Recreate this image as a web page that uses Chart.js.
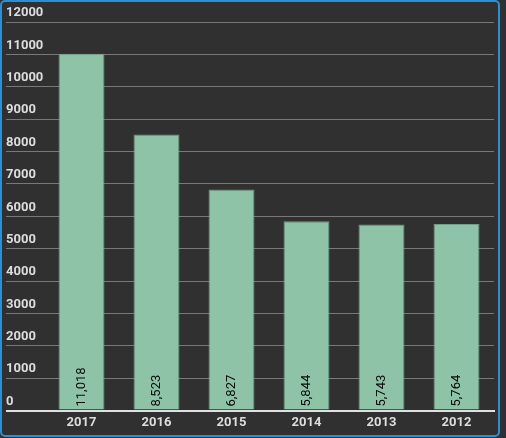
<!DOCTYPE html>
<html>
<head>
<meta charset="utf-8">
<script src="https://cdn.jsdelivr.net/npm/chart.js@4"></script>
<style>
    html, body { margin: 0; padding: 0; background: #303030; }
    #box {
        position: absolute; left: 0; top: 0;
        width: 500px; height: 437px;
        box-sizing: border-box;
        border: 2px solid #2b8fd6;
        border-radius: 5px;
        background: #303030;
    }
    #chart { display: block; }
</style>
</head>
<body>
<div id="box"><canvas id="chart" width="496" height="433"></canvas></div>
<script>
// values
const years = ['2017', '2016', '2015', '2014', '2013', '2012'];
const counts = [11018, 8523, 6827, 5844, 5743, 5764];
const yMax = 12000;
const yStep = 1000;

// rotated value labels at the foot of each bar
const valueLabels = {
    id: 'valueLabels',
    afterDatasetsDraw(chart) {
        const ctx = chart.ctx;
        const base = chart.scales.y.getPixelForValue(0);
        const meta = chart.getDatasetMeta(0);
        ctx.save();
        ctx.fillStyle = '#0a0a0a';
        ctx.font = '13px Roboto';
        ctx.textAlign = 'left';
        ctx.textBaseline = 'middle';
        meta.data.forEach((bar, i) => {
            ctx.save();
            ctx.translate(bar.x, base - 4);
            ctx.rotate(-Math.PI / 2);
            ctx.fillText(counts[i].toLocaleString('en-US'), 0, 0);
            ctx.restore();
        });
        ctx.restore();
    }
};

new Chart(document.getElementById('chart'), {
    type: 'bar',
    data: {
        labels: years,
        datasets: [{
            data: counts,
            backgroundColor: '#8ec3a7',
            borderColor: '#6e9c86',
            borderWidth: 1,
            categoryPercentage: 1,
            barPercentage: 0.613
        }]
    },
    options: {
        responsive: false,
        animation: false,
        events: [],
        layout: { padding: { left: 4, right: 4, top: 20, bottom: 0 } },
        plugins: {
            legend: { display: false },
            tooltip: { enabled: false }
        },
        scales: {
            x: {
                z: 1,
                grid: { display: false, drawTicks: false },
                border: { display: true, color: '#e0e0e0', width: 2 },
                ticks: { color: '#dddddd', font: { family: 'Roboto', size: 13, weight: 'bold' }, padding: 4 },
                afterFit: scale => { scale.height = 24.5; }
            },
            y: {
                min: 0,
                max: yMax,
                border: { display: false },
                grid: {
                    color: c => c.tick && c.tick.value === 0 ? '#e0e0e0' : '#787878',
                    lineWidth: c => c.tick && c.tick.value === 0 ? 2 : 1,
                    tickLength: 38
                },
                ticks: {
                    stepSize: yStep,
                    crossAlign: 'far',
                    labelOffset: -9,
                    color: '#dddddd',
                    font: { family: 'Roboto', size: 13, weight: 'bold' },
                    callback: v => String(v)
                },
                afterFit: scale => { scale.width = 38; }
            }
        }
    },
    plugins: [valueLabels]
});
</script>
</body>
</html>
